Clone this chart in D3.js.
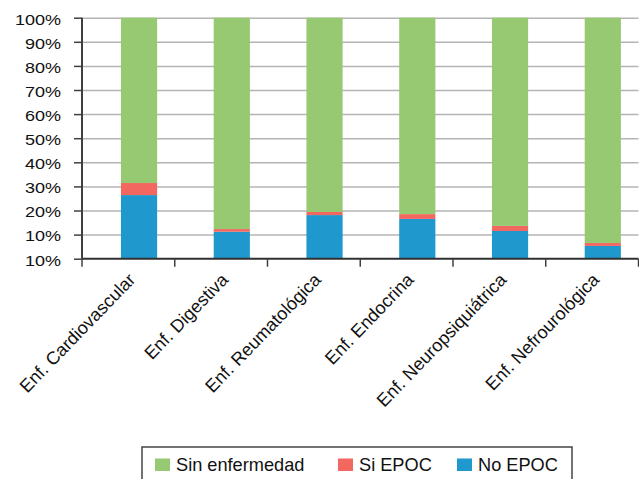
<!DOCTYPE html>
<html>
<head>
<meta charset="utf-8">
<script src="https://cdn.jsdelivr.net/npm/d3@7"></script>
<style>
  body { margin: 0; background: #fff; }
  svg { display: block; font-family: "Liberation Sans", Arial, sans-serif; }
</style>
</head>
<body>
<svg id="chart" width="639" height="479"></svg>
<script>
const categories = ['Enf. Cardiovascular', 'Enf. Digestiva', 'Enf. Reumatológica',
                    'Enf. Endocrina', 'Enf. Neuropsiquiátrica', 'Enf. Nefrourológica'];
const noEpoc = [26.4, 11.2, 18.1, 16.5, 11.5, 5.3];
const siEpoc = [5.0, 1.1, 1.3, 2.0, 2.1, 1.2];
const sinEnfermedad = [68.6, 87.7, 80.6, 81.5, 86.4, 93.5];
const seriesNames = ['No EPOC', 'Si EPOC', 'Sin enfermedad'];
const tickValues = [0, 10, 20, 30, 40, 50, 60, 70, 80, 90, 100];
const tickLabels = ['10%', '10%', '20%', '30%', '40%', '50%', '60%', '70%', '80%', '90%', '100%'];

const colors = { 'No EPOC': '#1e98cd', 'Si EPOC': '#f2675f', 'Sin enfermedad': '#97c872' };

const plotLeft = 82, plotRight = 638.5, plotTop = 17.7, plotBottom = 258.7;
const svg = d3.select('#chart');

const rows = categories.map((c, i) => ({
  cat: c, 'No EPOC': noEpoc[i], 'Si EPOC': siEpoc[i], 'Sin enfermedad': sinEnfermedad[i]
}));
const stacked = d3.stack().keys(seriesNames)(rows);

const x = d3.scaleBand().domain(categories).range([plotLeft, plotRight]);
const y = d3.scaleLinear().domain([0, 100]).range([plotBottom, plotTop]);

// grid
svg.append('g')
  .attr('transform', `translate(${plotLeft},0)`)
  .call(d3.axisLeft(y).tickValues(tickValues.slice(1)).tickSize(-(plotRight - plotLeft)).tickFormat(''))
  .call(g => g.select('.domain').remove())
  .call(g => g.selectAll('line').attr('stroke', '#b4b4b4').attr('stroke-width', 1.5));

// bars
svg.append('g').selectAll('g')
  .data(stacked)
  .join('g')
  .attr('fill', (s) => colors[s.key])
  .selectAll('rect')
  .data((s) => s)
  .join('rect')
  .attr('x', (d) => x(d.data.cat) + x.bandwidth() * 0.42)
  .attr('width', x.bandwidth() * 0.39)
  .attr('y', (d) => y(d[1]))
  .attr('height', (d) => y(d[0]) - y(d[1]));

// y axis
svg.append('g')
  .attr('transform', `translate(${plotLeft},0)`)
  .call(d3.axisLeft(y).tickValues(tickValues).tickSize(8).tickPadding(9.5)
    .tickFormat((d, i) => tickLabels[i]))
  .call(g => g.select('.domain').attr('stroke', '#404040').attr('stroke-width', 2)
    .attr('d', `M0,${plotTop}V${plotBottom}`))
  .call(g => g.selectAll('line').attr('stroke', '#404040').attr('stroke-width', 1.5))
  .call(g => g.selectAll('text')
    .attr('font-size', 15)
    .attr('fill', '#111')
    .attr('dy', '0.42em')
    .attr('transform', 'scale(1.2,1)'));

// x axis
const xAxis = svg.append('g').attr('transform', `translate(0,${plotBottom})`);
xAxis.append('line')
  .attr('x1', plotLeft).attr('x2', plotRight)
  .attr('stroke', '#303030').attr('stroke-width', 2);
xAxis.selectAll('.tick')
  .data(categories.concat(['end']))
  .join('line')
  .attr('class', 'tick')
  .attr('x1', (d, i) => i < categories.length ? x(d) : plotRight)
  .attr('x2', (d, i) => i < categories.length ? x(d) : plotRight)
  .attr('y1', 0).attr('y2', 8)
  .attr('stroke', '#404040').attr('stroke-width', 1.5);
xAxis.selectAll('text')
  .data(categories)
  .join('text')
  .attr('transform', (d) => `translate(${x(d) + x.bandwidth() / 2 + 8},22) rotate(-46)`)
  .attr('text-anchor', 'end')
  .attr('font-size', 18)
  .attr('fill', '#111')
  .text((d) => d);

// legend
const legendItems = ['Sin enfermedad', 'Si EPOC', 'No EPOC'];
const legendX = [155, 338, 457];
const legend = svg.append('g');
legend.append('rect')
  .attr('x', 142).attr('y', 447)
  .attr('width', 430).attr('height', 40)
  .attr('fill', 'none').attr('stroke', '#444').attr('stroke-width', 1.5);
const item = legend.selectAll('g.item')
  .data(legendItems)
  .join('g')
  .attr('class', 'item')
  .attr('transform', (d, i) => `translate(${legendX[i]},0)`);
item.append('rect')
  .attr('x', 0).attr('y', 458.5)
  .attr('width', 15).attr('height', 12.5)
  .attr('fill', (d) => colors[d]);
item.append('text')
  .attr('x', 21).attr('y', 471)
  .attr('font-size', 18.2)
  .attr('fill', '#111')
  .text((d) => d);
</script>
</body>
</html>
